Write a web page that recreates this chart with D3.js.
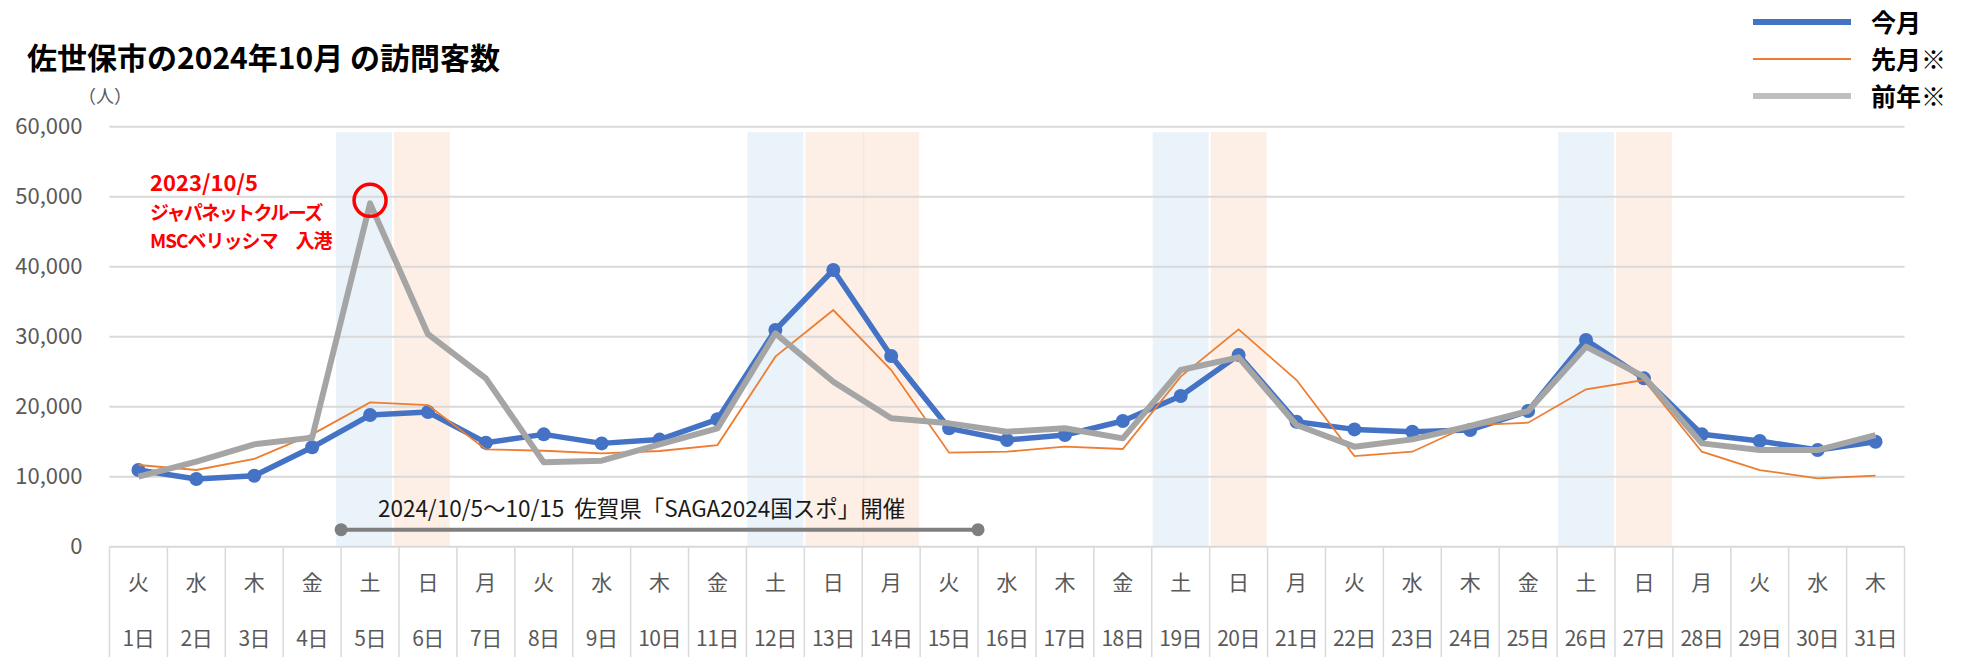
<!DOCTYPE html>
<html>
<head>
<meta charset="utf-8">
<script src="https://cdn.jsdelivr.net/npm/d3@7"></script>
<style>
  body { margin: 0; background: #fff; }
  text { font-family: "Noto Sans CJK JP", "Noto Sans", sans-serif; }
</style>
</head>
<body>
<div id="chart"></div>
<script>
// 日付と曜日
const days = ["1日","2日","3日","4日","5日","6日","7日","8日","9日","10日","11日","12日","13日","14日","15日","16日","17日","18日","19日","20日","21日","22日","23日","24日","25日","26日","27日","28日","29日","30日","31日"];
const weekdays = ["火","水","木","金","土","日","月","火","水","木","金","土","日","月","火","水","木","金","土","日","月","火","水","木","金","土","日","月","火","水","木"];
const holidays = ["14日"];

// 今月
const thisMonth = [10950, 9670, 10140, 14200, 18810, 19250, 14860, 16050, 14760, 15300, 18200, 30960, 39530, 27240, 16910, 15240, 15960, 17960, 21530, 27390, 17860, 16760, 16430, 16670, 19380, 29530, 24050, 16050, 15100, 13810, 15000];
// 先月※
const lastMonth = [11670, 10960, 12530, 16050, 20620, 20240, 13900, 13710, 13330, 13670, 14520, 27150, 33810, 25240, 13430, 13570, 14290, 13960, 24290, 31050, 23810, 12950, 13570, 17380, 17710, 22490, 23810, 13570, 10950, 9760, 10140];
// 前年※
const lastYear = [10000, 12140, 14620, 15580, 49050, 30360, 24050, 12050, 12290, 14620, 16900, 30480, 23570, 18340, 17620, 16430, 16910, 15480, 25240, 27050, 17390, 14290, 15330, 17240, 19380, 28580, 24300, 14760, 13810, 13810, 15950];

const yTicks = [0, 10000, 20000, 30000, 40000, 50000, 60000];

const width = 1962, height = 657;
const svg = d3.select("#chart").append("svg")
  .attr("width", width)
  .attr("height", height);

const margin = { top: 126.7, right: 57.5, bottom: 110.3, left: 109.5 };
const innerW = width - margin.left - margin.right;
const innerH = height - margin.top - margin.bottom;

const x = d3.scaleBand().domain(days).range([0, innerW]).padding(0);
const y = d3.scaleLinear().domain([0, 60000]).range([innerH, 0]);
const bw = x.bandwidth();

const g = svg.append("g").attr("transform", `translate(${margin.left},${margin.top})`);

// 土日祝の背景
const shade = days.map((d, i) => ({ d, kind: weekdays[i] === "土" ? "sat" : (weekdays[i] === "日" || holidays.includes(d)) ? "sun" : null }))
  .filter(s => s.kind);
g.append("g").selectAll("rect")
  .data(shade)
  .join("rect")
  .attr("x", s => x(s.d) + (s.d === "5日" || s.d === "6日" ? -5 : 1))
  .attr("y", 5.5)
  .attr("width", s => {
    const next = days[days.indexOf(s.d) + 1];
    const nextOrange = shade.some(t => t.d === next && t.kind === "sun");
    return s.kind === "sun" && nextOrange ? bw + 1 : bw - 2;
  })
  .attr("height", innerH - 5.5)
  .attr("fill", s => s.kind === "sat" ? "#5B9BD5" : "#F4B183")
  .attr("fill-opacity", s => s.kind === "sat" ? 0.13 : 0.2);

// 目盛線
g.append("g").selectAll("line")
  .data(yTicks)
  .join("line")
  .attr("x1", 0).attr("x2", innerW)
  .attr("y1", d => y(d)).attr("y2", d => y(d))
  .attr("stroke", "#d9d9d9").attr("stroke-width", 2);

// Y軸ラベル
g.append("g").selectAll("text")
  .data(yTicks)
  .join("text")
  .attr("x", -27)
  .attr("y", d => y(d))
  .attr("dy", "0.35em")
  .attr("text-anchor", "end")
  .attr("font-size", 22)
  .attr("fill", "#595959")
  .text(d => d3.format(",")(d));

svg.append("text")
  .attr("x", 78).attr("y", 103)
  .attr("font-size", 18).attr("fill", "#595959")
  .text("（人）");

// カテゴリ軸の区切り線
g.append("g").selectAll("line")
  .data(days.map(d => x(d)).concat([innerW]))
  .join("line")
  .attr("x1", d => d).attr("x2", d => d)
  .attr("y1", innerH).attr("y2", innerH + 112)
  .attr("stroke", "#d9d9d9").attr("stroke-width", 1.5);

const cat = g.append("g");
cat.selectAll("text.wd")
  .data(days)
  .join("text")
  .attr("class", "wd")
  .attr("x", d => x(d) + bw / 2)
  .attr("y", innerH + 43)
  .attr("text-anchor", "middle")
  .attr("font-size", 21)
  .attr("fill", "#595959")
  .text((d, i) => weekdays[i]);
cat.selectAll("text.dn")
  .data(days)
  .join("text")
  .attr("class", "dn")
  .attr("x", d => x(d) + bw / 2)
  .attr("y", innerH + 99)
  .attr("text-anchor", "middle")
  .attr("font-size", 21)
  .attr("letter-spacing", -0.5)
  .attr("fill", "#595959")
  .text(d => d);

// 折れ線
const line = d3.line()
  .x((v, i) => x(days[i]) + bw / 2)
  .y(v => y(v));

g.append("path").datum(thisMonth)
  .attr("d", line).attr("fill", "none")
  .attr("stroke", "#4472C4").attr("stroke-width", 5.5).attr("stroke-linejoin", "round");
g.append("g").selectAll("circle")
  .data(thisMonth)
  .join("circle")
  .attr("cx", (v, i) => x(days[i]) + bw / 2)
  .attr("cy", v => y(v))
  .attr("r", 7)
  .attr("fill", "#4472C4");

g.append("path").datum(lastMonth)
  .attr("d", line).attr("fill", "none")
  .attr("stroke", "#ED7D31").attr("stroke-width", 1.8);

g.append("path").datum(lastYear)
  .attr("d", line).attr("fill", "none")
  .attr("stroke", "#A5A5A5").attr("stroke-width", 6).attr("stroke-linejoin", "round");

// 注記：クルーズ船入港
g.append("circle")
  .attr("cx", x("5日") + bw / 2)
  .attr("cy", y(49050) - 3)
  .attr("r", 16)
  .attr("fill", "none")
  .attr("stroke", "#FF0000").attr("stroke-width", 3.5);

const noteLines = [
  { t: "2023/10/5", y: 191, size: 22, ls: 0 },
  { t: "ジャパネットクルーズ", y: 220, size: 19, ls: -1.6 },
  { t: "MSCベリッシマ\u3000入港", y: 248, size: 19, ls: -1 }
];
svg.append("g").selectAll("text")
  .data(noteLines)
  .join("text")
  .attr("x", 150).attr("y", d => d.y)
  .attr("font-size", d => d.size)
  .attr("letter-spacing", d => d.ls)
  .attr("font-weight", "bold").attr("fill", "#FF0000")
  .text(d => d.t);

// 注記：国スポ期間
const spanY = innerH - 17;
const x0 = x("5日"), x1 = x("15日") + bw;
g.append("line")
  .attr("x1", x0).attr("x2", x1)
  .attr("y1", spanY).attr("y2", spanY)
  .attr("stroke", "#7F7F7F").attr("stroke-width", 4);
g.append("g").selectAll("circle")
  .data([x0, x1])
  .join("circle")
  .attr("cx", d => d).attr("cy", spanY).attr("r", 6.5)
  .attr("fill", "#7F7F7F");
g.append("text")
  .attr("x", (x0 + x1) / 2 - 18)
  .attr("y", spanY - 13)
  .attr("text-anchor", "middle")
  .attr("font-size", 22.5)
  .attr("fill", "#1a1a1a")
  .text("2024/10/5～10/15\u00a0\u00a0佐賀県「SAGA2024国スポ」開催");

// タイトル
svg.append("text")
  .attr("x", 27).attr("y", 69)
  .attr("font-size", 30).attr("font-weight", "bold")
  .attr("fill", "#000")
  .text("佐世保市の2024年10月 の訪問客数");

// 凡例
const legend = [
  { name: "今月", color: "#4472C4", w: 6 },
  { name: "先月※", color: "#ED7D31", w: 1.8 },
  { name: "前年※", color: "#BFBFBF", w: 6 }
];
const lg = svg.append("g");
legend.forEach((l, i) => {
  const ly = 22 + i * 37;
  lg.append("line")
    .attr("x1", 1753).attr("x2", 1851)
    .attr("y1", ly).attr("y2", ly)
    .attr("stroke", l.color).attr("stroke-width", l.w);
  lg.append("text")
    .attr("x", 1871).attr("y", ly + 1)
    .attr("dy", "0.35em")
    .attr("font-size", 25).attr("font-weight", "bold")
    .text(l.name);
});
</script>
</body>
</html>
